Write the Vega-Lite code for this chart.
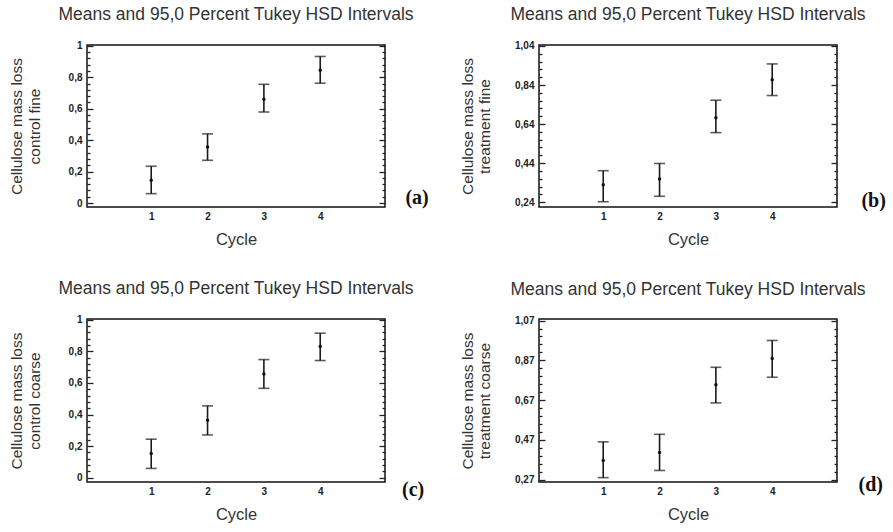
{
  "$schema": "https://vega.github.io/schema/vega-lite/v6.json",
  "padding": {"left": 8, "top": 5, "right": 0, "bottom": 0},
  "background": "white",
  "datasets": {
    "errs": [
      {"panel": "a", "cycle": 1, "mean": 0.145, "lower": 0.06, "upper": 0.234},
      {"panel": "a", "cycle": 2, "mean": 0.357, "lower": 0.272, "upper": 0.44},
      {"panel": "a", "cycle": 3, "mean": 0.66, "lower": 0.579, "upper": 0.755},
      {"panel": "a", "cycle": 4, "mean": 0.845, "lower": 0.762, "upper": 0.932},
      {"panel": "b", "cycle": 1, "mean": 0.329, "lower": 0.242, "upper": 0.401},
      {"panel": "b", "cycle": 2, "mean": 0.359, "lower": 0.27, "upper": 0.438},
      {"panel": "b", "cycle": 3, "mean": 0.672, "lower": 0.596, "upper": 0.762},
      {"panel": "b", "cycle": 4, "mean": 0.867, "lower": 0.786, "upper": 0.948},
      {"panel": "c", "cycle": 1, "mean": 0.153, "lower": 0.059, "upper": 0.244},
      {"panel": "c", "cycle": 2, "mean": 0.364, "lower": 0.271, "upper": 0.455},
      {"panel": "c", "cycle": 3, "mean": 0.657, "lower": 0.566, "upper": 0.748},
      {"panel": "c", "cycle": 4, "mean": 0.831, "lower": 0.742, "upper": 0.915},
      {"panel": "d", "cycle": 1, "mean": 0.366, "lower": 0.28, "upper": 0.46},
      {"panel": "d", "cycle": 2, "mean": 0.407, "lower": 0.316, "upper": 0.498},
      {"panel": "d", "cycle": 3, "mean": 0.747, "lower": 0.656, "upper": 0.835},
      {"panel": "d", "cycle": 4, "mean": 0.879, "lower": 0.785, "upper": 0.97}
    ]
  },
  "columns": 2,
  "spacing": {"column": 154, "row": 112},
  "bounds": "flush",
  "concat": [
    {
      "width": 298, "height": 162,
      "title": "Means and 95,0 Percent Tukey HSD Intervals",
      "data": {"name": "errs"},
      "transform": [{"filter": "datum.panel == 'a'"}],
      "encoding": {
        "x": {"field": "cycle", "type": "quantitative", "scale": {"domain": [-0.14, 5.15], "nice": false, "zero": false},
              "axis": {"values": [1, 2, 3, 4], "format": "d", "ticks": false, "labelPadding": 4, "title": "Cycle", "titlePadding": 10}}
      },
      "layer": [
        {"mark": {"type": "rule", "strokeWidth": 1.6, "color": "#1a1a1a"},
         "encoding": {"y": {"field": "lower", "type": "quantitative", "scale": {"domain": [-0.025, 1.005], "nice": false, "zero": false},
           "axis": {"orient": "left", "values": [0,0.04,0.08,0.12,0.16,0.2,0.24,0.28,0.32,0.36,0.4,0.44,0.48,0.52,0.56,0.6,0.64,0.68,0.72,0.76,0.8,0.84,0.88,0.92,0.96,1],
             "tickSize": {"condition": {"test": "abs(datum.value*5-round(datum.value*5))<0.01", "value": -6}, "value": -3},
             "labelExpr": "abs(datum.value*5-round(datum.value*5))<0.01 ? replace(format(datum.value,'.1~f'),'.',',') : ''",
             "title": ["Cellulose mass loss", "control  fine"], "titlePadding": 26}},
           "y2": {"field": "upper"}}},
        {"mark": {"type": "tick", "orient": "horizontal", "size": 11, "thickness": 1.6, "color": "#1a1a1a"},
         "encoding": {"y": {"field": "upper", "type": "quantitative", "scale": {"domain": [-0.025, 1.005], "nice": false, "zero": false},
           "axis": {"orient": "right", "values": [0,0.04,0.08,0.12,0.16,0.2,0.24,0.28,0.32,0.36,0.4,0.44,0.48,0.52,0.56,0.6,0.64,0.68,0.72,0.76,0.8,0.84,0.88,0.92,0.96,1],
             "tickSize": {"condition": {"test": "abs(datum.value*5-round(datum.value*5))<0.01", "value": -6}, "value": -3},
             "labels": false, "title": null}}}},
        {"mark": {"type": "tick", "orient": "horizontal", "size": 11, "thickness": 1.6, "color": "#1a1a1a"},
         "encoding": {"y": {"field": "lower", "type": "quantitative", "scale": {"domain": [-0.025, 1.005], "nice": false, "zero": false}, "axis": null}}},
        {"mark": {"type": "point", "filled": true, "size": 12, "color": "#111", "opacity": 1},
         "encoding": {"y": {"field": "mean", "type": "quantitative", "scale": {"domain": [-0.025, 1.005], "nice": false, "zero": false}, "axis": null}}},
        {"transform": [{"filter": "datum.cycle == 4"}],
         "mark": {"type": "text", "font": "Liberation Serif", "fontWeight": "bold", "fontSize": 20, "color": "#111", "baseline": "middle", "align": "center"},
         "encoding": {"x": {"datum": 5.72, "type": "quantitative"}, "y": {"datum": 0.03, "type": "quantitative", "axis": null}, "text": {"value": "(a)"}}}
      ],
      "resolve": {"axis": {"y": "independent"}}
    },
    {
      "width": 298, "height": 162,
      "title": "Means and 95,0 Percent Tukey HSD Intervals",
      "data": {"name": "errs"},
      "transform": [{"filter": "datum.panel == 'b'"}],
      "encoding": {
        "x": {"field": "cycle", "type": "quantitative", "scale": {"domain": [-0.14, 5.15], "nice": false, "zero": false},
              "axis": {"values": [1, 2, 3, 4], "format": "d", "ticks": false, "labelPadding": 4, "title": "Cycle", "titlePadding": 10}}
      },
      "layer": [
        {"mark": {"type": "rule", "strokeWidth": 1.6, "color": "#1a1a1a"},
         "encoding": {"y": {"field": "lower", "type": "quantitative", "scale": {"domain": [0.215, 1.045], "nice": false, "zero": false},
           "axis": {"orient": "left", "values": [0.24,0.28,0.32,0.36,0.4,0.44,0.48,0.52,0.56,0.6,0.64,0.68,0.72,0.76,0.8,0.84,0.88,0.92,0.96,1,1.04],
             "tickSize": {"condition": {"test": "abs((datum.value-0.04)*5-round((datum.value-0.04)*5))<0.01", "value": -6}, "value": -3},
             "labelExpr": "abs((datum.value-0.04)*5-round((datum.value-0.04)*5))<0.01 ? replace(format(datum.value,'.2f'),'.',',') : ''",
             "title": ["Cellulose mass loss", "treatment  fine"], "titlePadding": 22}},
           "y2": {"field": "upper"}}},
        {"mark": {"type": "tick", "orient": "horizontal", "size": 11, "thickness": 1.6, "color": "#1a1a1a"},
         "encoding": {"y": {"field": "upper", "type": "quantitative", "scale": {"domain": [0.215, 1.045], "nice": false, "zero": false},
           "axis": {"orient": "right", "values": [0.24,0.28,0.32,0.36,0.4,0.44,0.48,0.52,0.56,0.6,0.64,0.68,0.72,0.76,0.8,0.84,0.88,0.92,0.96,1,1.04],
             "tickSize": {"condition": {"test": "abs((datum.value-0.04)*5-round((datum.value-0.04)*5))<0.01", "value": -6}, "value": -3},
             "labels": false, "title": null}}}},
        {"mark": {"type": "tick", "orient": "horizontal", "size": 11, "thickness": 1.6, "color": "#1a1a1a"},
         "encoding": {"y": {"field": "lower", "type": "quantitative", "scale": {"domain": [0.215, 1.045], "nice": false, "zero": false}, "axis": null}}},
        {"mark": {"type": "point", "filled": true, "size": 12, "color": "#111", "opacity": 1},
         "encoding": {"y": {"field": "mean", "type": "quantitative", "scale": {"domain": [0.215, 1.045], "nice": false, "zero": false}, "axis": null}}},
        {"transform": [{"filter": "datum.cycle == 4"}],
         "mark": {"type": "text", "font": "Liberation Serif", "fontWeight": "bold", "fontSize": 20, "color": "#111", "baseline": "middle", "align": "center"},
         "encoding": {"x": {"datum": 5.8, "type": "quantitative"}, "y": {"datum": 0.245, "type": "quantitative", "axis": null}, "text": {"value": "(b)"}}}
      ],
      "resolve": {"axis": {"y": "independent"}}
    },
    {
      "width": 298, "height": 163,
      "title": "Means and 95,0 Percent Tukey HSD Intervals",
      "data": {"name": "errs"},
      "transform": [{"filter": "datum.panel == 'c'"}],
      "encoding": {
        "x": {"field": "cycle", "type": "quantitative", "scale": {"domain": [-0.14, 5.15], "nice": false, "zero": false},
              "axis": {"values": [1, 2, 3, 4], "format": "d", "ticks": false, "labelPadding": 4, "title": "Cycle", "titlePadding": 10}}
      },
      "layer": [
        {"mark": {"type": "rule", "strokeWidth": 1.6, "color": "#1a1a1a"},
         "encoding": {"y": {"field": "lower", "type": "quantitative", "scale": {"domain": [-0.027, 1.005], "nice": false, "zero": false},
           "axis": {"orient": "left", "values": [0,0.04,0.08,0.12,0.16,0.2,0.24,0.28,0.32,0.36,0.4,0.44,0.48,0.52,0.56,0.6,0.64,0.68,0.72,0.76,0.8,0.84,0.88,0.92,0.96,1],
             "tickSize": {"condition": {"test": "abs(datum.value*5-round(datum.value*5))<0.01", "value": -6}, "value": -3},
             "labelExpr": "abs(datum.value*5-round(datum.value*5))<0.01 ? replace(format(datum.value,'.1~f'),'.',',') : ''",
             "title": ["Cellulose mass loss", "control  coarse"], "titlePadding": 26}},
           "y2": {"field": "upper"}}},
        {"mark": {"type": "tick", "orient": "horizontal", "size": 11, "thickness": 1.6, "color": "#1a1a1a"},
         "encoding": {"y": {"field": "upper", "type": "quantitative", "scale": {"domain": [-0.027, 1.005], "nice": false, "zero": false},
           "axis": {"orient": "right", "values": [0,0.04,0.08,0.12,0.16,0.2,0.24,0.28,0.32,0.36,0.4,0.44,0.48,0.52,0.56,0.6,0.64,0.68,0.72,0.76,0.8,0.84,0.88,0.92,0.96,1],
             "tickSize": {"condition": {"test": "abs(datum.value*5-round(datum.value*5))<0.01", "value": -6}, "value": -3},
             "labels": false, "title": null}}}},
        {"mark": {"type": "tick", "orient": "horizontal", "size": 11, "thickness": 1.6, "color": "#1a1a1a"},
         "encoding": {"y": {"field": "lower", "type": "quantitative", "scale": {"domain": [-0.027, 1.005], "nice": false, "zero": false}, "axis": null}}},
        {"mark": {"type": "point", "filled": true, "size": 12, "color": "#111", "opacity": 1},
         "encoding": {"y": {"field": "mean", "type": "quantitative", "scale": {"domain": [-0.027, 1.005], "nice": false, "zero": false}, "axis": null}}},
        {"transform": [{"filter": "datum.cycle == 4"}],
         "mark": {"type": "text", "font": "Liberation Serif", "fontWeight": "bold", "fontSize": 20, "color": "#111", "baseline": "middle", "align": "center"},
         "encoding": {"x": {"datum": 5.65, "type": "quantitative"}, "y": {"datum": -0.078, "type": "quantitative", "axis": null}, "text": {"value": "(c)"}}}
      ],
      "resolve": {"axis": {"y": "independent"}}
    },
    {
      "width": 298, "height": 163,
      "title": "Means and 95,0 Percent Tukey HSD Intervals",
      "data": {"name": "errs"},
      "transform": [{"filter": "datum.panel == 'd'"}],
      "encoding": {
        "x": {"field": "cycle", "type": "quantitative", "scale": {"domain": [-0.14, 5.15], "nice": false, "zero": false},
              "axis": {"values": [1, 2, 3, 4], "format": "d", "ticks": false, "labelPadding": 4, "title": "Cycle", "titlePadding": 10}}
      },
      "layer": [
        {"mark": {"type": "rule", "strokeWidth": 1.6, "color": "#1a1a1a"},
         "encoding": {"y": {"field": "lower", "type": "quantitative", "scale": {"domain": [0.258, 1.078], "nice": false, "zero": false},
           "axis": {"orient": "left", "values": [0.27,0.31,0.35,0.39,0.43,0.47,0.51,0.55,0.59,0.63,0.67,0.71,0.75,0.79,0.83,0.87,0.91,0.95,0.99,1.03,1.07],
             "tickSize": {"condition": {"test": "abs((datum.value-0.07)*5-round((datum.value-0.07)*5))<0.01", "value": -6}, "value": -3},
             "labelExpr": "abs((datum.value-0.07)*5-round((datum.value-0.07)*5))<0.01 ? replace(format(datum.value,'.2f'),'.',',') : ''",
             "title": ["Cellulose mass loss", "treatment  coarse"], "titlePadding": 22}},
           "y2": {"field": "upper"}}},
        {"mark": {"type": "tick", "orient": "horizontal", "size": 11, "thickness": 1.6, "color": "#1a1a1a"},
         "encoding": {"y": {"field": "upper", "type": "quantitative", "scale": {"domain": [0.258, 1.078], "nice": false, "zero": false},
           "axis": {"orient": "right", "values": [0.27,0.31,0.35,0.39,0.43,0.47,0.51,0.55,0.59,0.63,0.67,0.71,0.75,0.79,0.83,0.87,0.91,0.95,0.99,1.03,1.07],
             "tickSize": {"condition": {"test": "abs((datum.value-0.07)*5-round((datum.value-0.07)*5))<0.01", "value": -6}, "value": -3},
             "labels": false, "title": null}}}},
        {"mark": {"type": "tick", "orient": "horizontal", "size": 11, "thickness": 1.6, "color": "#1a1a1a"},
         "encoding": {"y": {"field": "lower", "type": "quantitative", "scale": {"domain": [0.258, 1.078], "nice": false, "zero": false}, "axis": null}}},
        {"mark": {"type": "point", "filled": true, "size": 12, "color": "#111", "opacity": 1},
         "encoding": {"y": {"field": "mean", "type": "quantitative", "scale": {"domain": [0.258, 1.078], "nice": false, "zero": false}, "axis": null}}},
        {"transform": [{"filter": "datum.cycle == 4"}],
         "mark": {"type": "text", "font": "Liberation Serif", "fontWeight": "bold", "fontSize": 20, "color": "#111", "baseline": "middle", "align": "center"},
         "encoding": {"x": {"datum": 5.75, "type": "quantitative"}, "y": {"datum": 0.245, "type": "quantitative", "axis": null}, "text": {"value": "(d)"}}}
      ],
      "resolve": {"axis": {"y": "independent"}}
    }
  ],
  "config": {
    "font": "Liberation Sans",
    "view": {"stroke": "#111", "strokeWidth": 1.5},
    "axis": {
      "domain": false, "grid": false,
      "labelFont": "Liberation Sans", "labelFontWeight": "bold", "labelFontSize": 10, "labelColor": "#222",
      "labelPadding": 11,
      "tickColor": "#222", "tickWidth": 1.3,
      "titleFont": "Liberation Sans", "titleFontWeight": "normal", "titleFontSize": 15.5, "titleColor": "#333"
    },
    "axisX": {"titleFontSize": 16.5},
    "title": {"font": "Liberation Sans", "fontSize": 17.5, "fontWeight": "normal", "color": "#333", "offset": 17, "frame": "group", "anchor": "middle"}
  }
}
